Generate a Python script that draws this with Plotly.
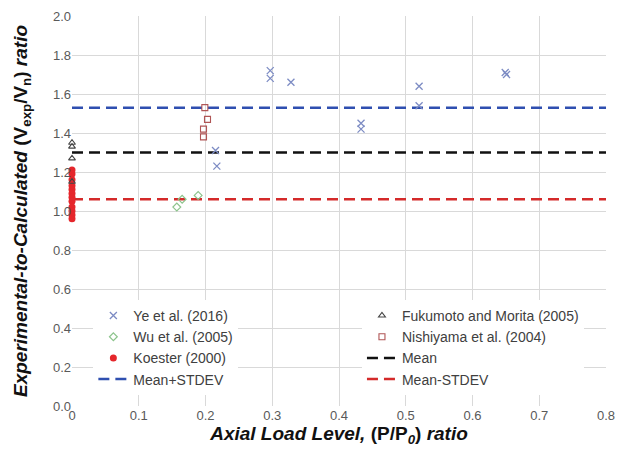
import plotly.graph_objects as go

# ---- data ----
ye_x = [0.215, 0.217, 0.297, 0.297, 0.328, 0.433, 0.433, 0.52, 0.52, 0.649, 0.651]
ye_y = [1.31, 1.23, 1.72, 1.68, 1.66, 1.45, 1.42, 1.64, 1.54, 1.71, 1.70]

wu_x = [0.157, 0.165, 0.189]
wu_y = [1.02, 1.06, 1.08]

koester_x = [0, 0, 0, 0, 0, 0, 0, 0, 0, 0, 0, 0]
koester_y = [1.21, 1.19, 1.16, 1.13, 1.11, 1.09, 1.07, 1.05, 1.02, 1.00, 0.98, 0.96]

fuku_x = [0, 0, 0, 0]
fuku_y = [1.35, 1.33, 1.27, 1.15]

nishi_x = [0.199, 0.203, 0.197, 0.197]
nishi_y = [1.53, 1.47, 1.42, 1.38]

mean_val = 1.30
mean_plus = 1.53
mean_minus = 1.06
line_x = [0, 0.8]

x_ticks = [0, 0.1, 0.2, 0.3, 0.4, 0.5, 0.6, 0.7, 0.8]
x_tick_text = ["0", "0.1", "0.2", "0.3", "0.4", "0.5", "0.6", "0.7", "0.8"]
y_ticks = [0.0, 0.2, 0.4, 0.6, 0.8, 1.0, 1.2, 1.4, 1.6, 1.8, 2.0]

FONT = "Liberation Sans, Arial, sans-serif"
DASH = "11px,6px"

fig = go.Figure()

# lines (drawn first, under markers)
fig.add_trace(go.Scatter(x=line_x, y=[mean_val, mean_val], mode="lines", name="Mean",
                         line=dict(color="#111111", width=2.5, dash=DASH), legend="legend2", legendrank=3))
fig.add_trace(go.Scatter(x=line_x, y=[mean_plus, mean_plus], mode="lines", name="Mean+STDEV",
                         line=dict(color="#2f4fb0", width=2.5, dash=DASH), legend="legend", legendrank=4))
fig.add_trace(go.Scatter(x=line_x, y=[mean_minus, mean_minus], mode="lines", name="Mean-STDEV",
                         line=dict(color="#d42a2a", width=2.5, dash=DASH), legend="legend2", legendrank=4))

fig.add_trace(go.Scatter(x=ye_x, y=ye_y, mode="markers", name="Ye et al. (2016)",
                         marker=dict(symbol="x-thin", size=7, line=dict(color="#7d8cc4", width=1.3)),
                         legend="legend", legendrank=1, cliponaxis=False))
fig.add_trace(go.Scatter(x=wu_x, y=wu_y, mode="markers", name="Wu et al. (2005)",
                         marker=dict(symbol="diamond-open", size=6, color="#8cc48c", line=dict(width=1.2)),
                         legend="legend", legendrank=2, cliponaxis=False))
fig.add_trace(go.Scatter(x=koester_x, y=koester_y, mode="markers", name="Koester (2000)",
                         marker=dict(symbol="circle", size=7, color="#e5262b"),
                         legend="legend", legendrank=3, cliponaxis=False))
fig.add_trace(go.Scatter(x=fuku_x, y=fuku_y, mode="markers", name="Fukumoto and Morita (2005)",
                         marker=dict(symbol="triangle-up-open", size=6, color="#444444", line=dict(width=1.1)),
                         legend="legend2", legendrank=1, cliponaxis=False))
fig.add_trace(go.Scatter(x=nishi_x, y=nishi_y, mode="markers", name="Nishiyama et al. (2004)",
                         marker=dict(symbol="square-open", size=6, color="#b05555", line=dict(width=1.1)),
                         legend="legend2", legendrank=2, cliponaxis=False))

legend_common = dict(bgcolor="white", borderwidth=0, font=dict(family=FONT, size=14, color="#404040"),
                     xanchor="left", yanchor="top", tracegroupgap=0, itemwidth=30,
                     traceorder="normal")

fig.update_layout(
    width=634, height=454,
    margin=dict(l=64, r=36, t=8, b=56, autoexpand=False),
    paper_bgcolor="white", plot_bgcolor="white",
    font=dict(family=FONT, size=13, color="#595959"),
    legend=dict(x=0.04, y=0.272, **legend_common),
    legend2=dict(x=0.543, y=0.272, **legend_common),
    xaxis=dict(range=[0, 0.8], tickvals=x_ticks, ticktext=x_tick_text, automargin=False,
               showgrid=True, gridcolor="#d9d9d9", gridwidth=1, zeroline=False,
               showline=False, ticks="", tickfont=dict(size=13, color="#595959"),
               title=dict(text="<b><i>Axial Load Level, </i>(P/P<sub><i>0</i></sub>)<i> ratio</i></b>",
                          font=dict(family=FONT, size=19, color="#111111"), standoff=3)),
    yaxis=dict(range=[0, 2.0], tickvals=y_ticks, tickformat=".1f", automargin=False,
               showgrid=True, gridcolor="#d9d9d9", gridwidth=1, zeroline=False,
               showline=False, ticks="", tickfont=dict(size=13, color="#595959"),
               title=dict(text="<b><i>Experimental-to-Calculated </i>(V<sub>exp</sub>/V<sub>n</sub>)<i> ratio</i></b>",
                          font=dict(family=FONT, size=19, color="#111111"), standoff=20)),
    showlegend=True,
)

fig.write_html("out.html")
